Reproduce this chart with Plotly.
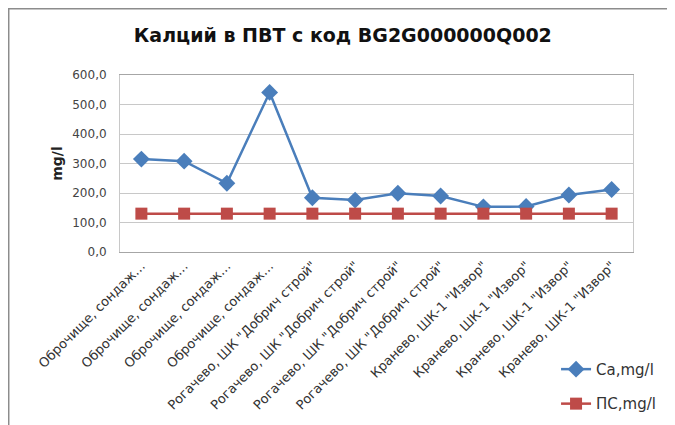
import plotly.graph_objects as go

categories = [
    "Оброчище, сондаж…", "Оброчище, сондаж…", "Оброчище, сондаж…", "Оброчище, сондаж…",
    "Рогачево, ШК \"Добрич строй\"", "Рогачево, ШК \"Добрич строй\"",
    "Рогачево, ШК \"Добрич строй\"", "Рогачево, ШК \"Добрич строй\"",
    "Кранево, ШК-1 \"Извор\"", "Кранево, ШК-1 \"Извор\"",
    "Кранево, ШК-1 \"Извор\"", "Кранево, ШК-1 \"Извор\"",
]
ca_values = [315, 308, 233, 541, 184, 176, 199, 190, 153, 154, 193, 212]
ps_values = [130] * 12
y_ticks = [0, 100, 200, 300, 400, 500, 600]
y_tick_labels = ["0,0", "100,0", "200,0", "300,0", "400,0", "500,0", "600,0"]

x_idx = list(range(len(categories)))

fig = go.Figure()
fig.add_trace(go.Scatter(
    x=x_idx, y=ca_values, name="Ca,mg/l", mode="lines+markers",
    line=dict(color="#4a7ebb", width=2.5),
    marker=dict(symbol="diamond", size=13, color="#4a7ebb"),
    legendgroup="a",
))
fig.add_trace(go.Scatter(
    x=x_idx, y=ps_values, name="ПС,mg/l", mode="lines+markers",
    line=dict(color="#be4b48", width=2.5),
    marker=dict(symbol="square", size=12, color="#be4b48"),
    legendgroup="b",
))

fig.update_layout(
    width=667, height=417,
    margin=dict(l=112, r=42, t=67, b=173, autoexpand=False),
    paper_bgcolor="white", plot_bgcolor="white",
    font=dict(family="DejaVu Sans, sans-serif", color="#333333"),
    title=dict(text="<b>Калций в ПВТ с код BG2G000000Q002</b>",
               x=0.502, xanchor="center", y=0.935, yanchor="middle",
               font=dict(size=19, family="DejaVu Sans, sans-serif", color="#111111")),
    showlegend=True,
    legend=dict(x=0.85, y=-0.57, xanchor="left", yanchor="top",
                tracegroupgap=12, bgcolor="rgba(0,0,0,0)", itemwidth=30,
                font=dict(size=15, family="DejaVu Sans, sans-serif", color="#333333")),
    shapes=[dict(type="rect", xref="paper", yref="paper",
                 x0=-0.2169, x1=1.068, y0=-1.0, y1=1.374,
                 line=dict(color="#8c8c8c", width=1.5), layer="below")],
)
fig.update_xaxes(
    tickmode="array", tickvals=x_idx, ticktext=categories,
    range=[-0.5, len(categories) - 0.5], tickangle=-45,
    tickfont=dict(size=13, family="DejaVu Sans, sans-serif", color="#333333"),
    showgrid=False, showline=True, linecolor="#a6a6a6", linewidth=1, mirror=True,
    ticks="", zeroline=False,
)
fig.update_yaxes(
    tickmode="array", tickvals=y_ticks, ticktext=y_tick_labels,
    range=[0, 600], showgrid=True, gridcolor="#c8c8c8", gridwidth=1,
    showline=True, linecolor="#c8c8c8", mirror=True, zeroline=False,
    ticklabelstandoff=10,
    tickfont=dict(size=12, color="#444444"),
    title=dict(text="<b>mg/l</b>", font=dict(size=14, color="#222222"), standoff=6),
)

fig.write_html("out.html")
